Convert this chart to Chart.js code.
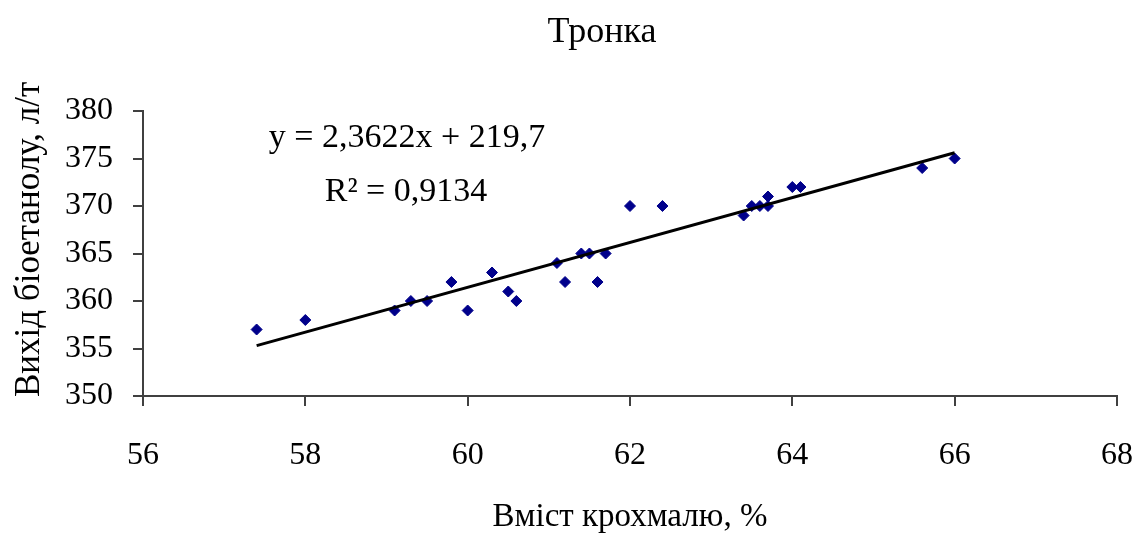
<!DOCTYPE html>
<html>
<head>
<meta charset="utf-8">
<script src="https://cdn.jsdelivr.net/npm/chart.js@4.4.1/dist/chart.umd.min.js"></script>
<style>
html,body{margin:0;padding:0;background:#fff;}
#wrap{width:1137px;height:534px;}
</style>
</head>
<body>
<div id="wrap"><canvas id="starchChart" width="1137" height="534"></canvas></div>
<script>
// values
var starch=[57.4,58.0,59.1,59.3,59.5,59.8,60.0,60.3,60.5,60.6,61.1,61.2,61.4,61.5,61.6,61.7,62.0,62.4,63.4,63.5,63.6,63.7,63.7,64.0,64.1,65.6,66.0];
var ethanol=[357,358,359,360,360,362,359,363,361,360,364,362,365,365,362,365,370,370,369,370,370,371,370,372,372,374,375];
var trendX=[57.4,66.0];
var trendY=[355.3,375.6];
var xRange=[56,68];
var yRange=[350,380];
var chartTitle="Тронка";
var xTitle="Вміст крохмалю, %";
var yTitle="Вихід біоетанолу, л/т";
var equation=["y = 2,3622x + 219,7","R² = 0,9134"];

var points=[];
for(var i=0;i<starch.length;i++){
    points.push({x:starch[i],y:ethanol[i]});
}
var trend=[];
for(var j=0;j<trendX.length;j++){
    trend.push({x:trendX[j],y:trendY[j]});
}

var serif="'Liberation Serif','Times New Roman',serif";
var axisColor="#404040";

// title, y axis title and the regression text
var textPlugin={
    id:"textPlugin",
    afterDraw:function(chart){
        var ctx=chart.ctx;
        ctx.save();
        ctx.fillStyle="#000";
        ctx.textBaseline="alphabetic";
        ctx.textAlign="center";
        ctx.font="36px "+serif;
        ctx.fillText(chartTitle,602,42);

        ctx.font="34px "+serif;
        ctx.fillText(equation[0],407,147);
        ctx.fillText(equation[1],406,201);

        ctx.translate(39,397);
        ctx.rotate(-Math.PI/2);
        ctx.textAlign="left";
        ctx.font="35px "+serif;
        ctx.fillText(yTitle,0,0);
        ctx.restore();
    }
};

let ctxChart=document.getElementById("starchChart").getContext("2d");
let starchScatter=new Chart(ctxChart,{
    type:"scatter",
    data:{
        datasets:[
            {
                label:"Тронка",
                data:points,
                pointStyle:"rectRot",
                pointRadius:5.5,
                backgroundColor:"#00008b",
                borderColor:"#00008b",
                borderWidth:1,
                order:2
            },
            {
                type:"line",
                label:"trend",
                data:trend,
                borderColor:"#000",
                borderWidth:3,
                pointRadius:0,
                fill:false,
                order:1
            }
        ]
    },
    options:{
        responsive:false,
        animation:false,
        devicePixelRatio:1,
        layout:{padding:{top:111,right:20,left:0,bottom:0}},
        plugins:{
            legend:{display:false},
            tooltip:{enabled:false},
            title:{display:false}
        },
        scales:{
            x:{
                type:"linear",
                min:xRange[0],
                max:xRange[1],
                ticks:{stepSize:2,color:"#000",padding:30,font:{family:serif,size:32}},
                grid:{drawOnChartArea:false,drawTicks:true,tickLength:10,color:axisColor,lineWidth:2},
                border:{display:true,color:axisColor,width:2},
                title:{display:true,text:xTitle,color:"#000",font:{family:serif,size:33,lineHeight:1},padding:{top:0,bottom:0}},
                afterFit:function(scale){
                    scale.height=138;
                    scale.paddingLeft=0;
                    scale.paddingRight=0;
                }
            },
            y:{
                type:"linear",
                min:yRange[0],
                max:yRange[1],
                ticks:{stepSize:5,color:"#000",padding:20,font:{family:serif,size:32}},
                grid:{drawOnChartArea:false,drawTicks:true,tickLength:10,color:axisColor,lineWidth:2},
                border:{display:true,color:axisColor,width:2},
                afterFit:function(scale){scale.width=143;}
            }
        }
    },
    plugins:[textPlugin]
});
</script>
</body>
</html>
